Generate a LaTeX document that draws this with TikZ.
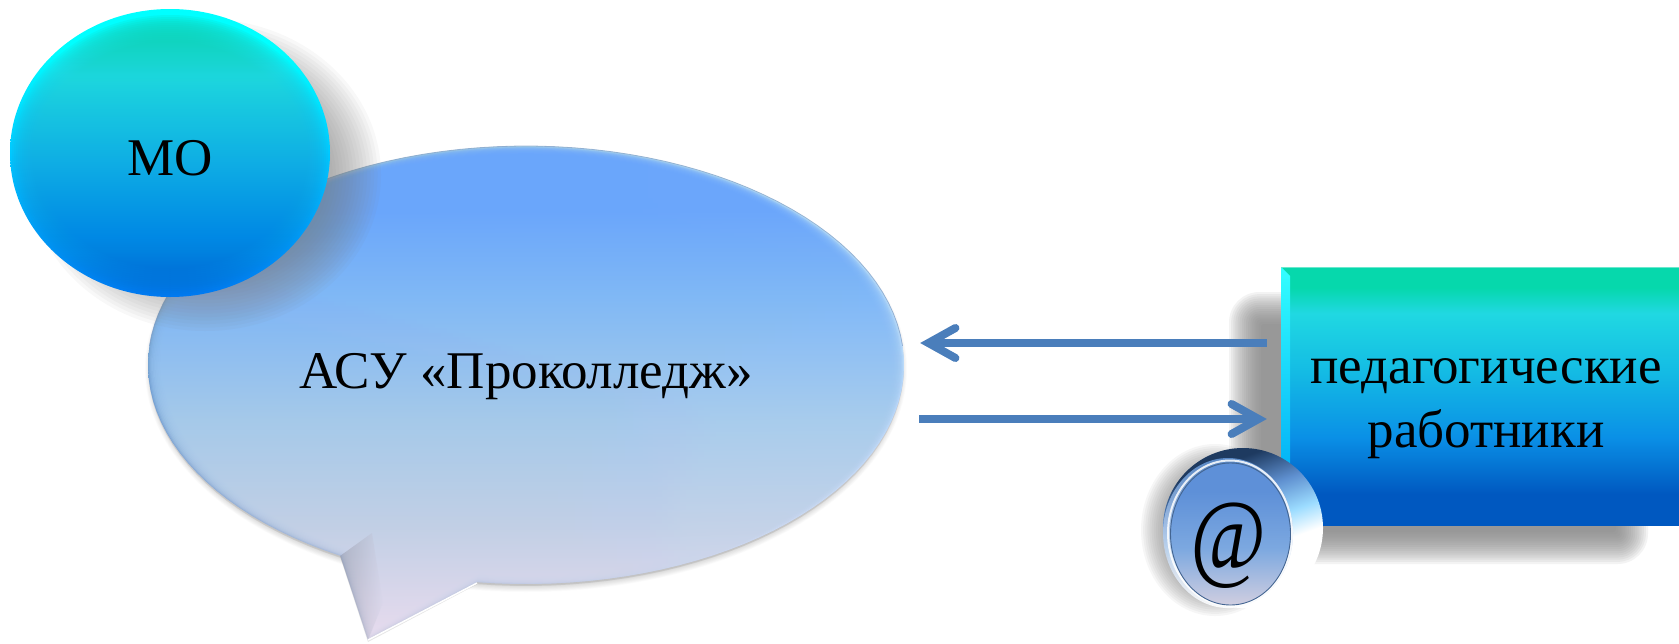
\documentclass[tikz,border=0pt]{standalone}
\usepackage{fontspec}
\setmainfont{Liberation Serif}
\usetikzlibrary{arrows.meta,shapes.geometric,calc}
\definecolor{pwA}{HTML}{0058C0}\definecolor{pwB}{HTML}{0A90E6}\definecolor{pwC}{HTML}{14BCE4}
\definecolor{pwD}{HTML}{20D8E2}\definecolor{pwE}{HTML}{06D8AC}
\definecolor{moA}{HTML}{0070D8}\definecolor{moB}{HTML}{0088E4}\definecolor{moC}{HTML}{12ACE4}
\definecolor{moD}{HTML}{20D6DE}\definecolor{moE}{HTML}{10D4B8}
\definecolor{rimA}{HTML}{0078F0}\definecolor{rimB}{HTML}{00C8FF}\definecolor{rimC}{HTML}{00FFFF}
\definecolor{asA}{HTML}{E8DDF0}\definecolor{asB}{HTML}{C4D2E8}\definecolor{asC}{HTML}{A8CCEC}
\definecolor{asD}{HTML}{80B8F8}\definecolor{asE}{HTML}{6AA6FE}\definecolor{asF}{HTML}{A8E4F2}
\definecolor{cfA}{HTML}{D0CEE0}\definecolor{cfB}{HTML}{7CA8E0}\definecolor{cfC}{HTML}{5E90D8}
\definecolor{crA}{HTML}{1E3A60}\definecolor{crB}{HTML}{5F90D0}\definecolor{crC}{HTML}{9CDCFF}
\definecolor{edgeblue}{HTML}{7C9CC8}
\definecolor{facet}{HTML}{D8D8EC}
\definecolor{arrowblue}{HTML}{4A7EBB}
\definecolor{shadowgray}{HTML}{808080}
% shadings: the path's box maps to 25bp (bottom) .. 75bp (top)
\pgfdeclareverticalshading{pwgrad}{100bp}{
 color(0bp)=(pwA); color(25bp)=(pwA); color(31bp)=(pwA); color(42bp)=(pwB); color(55bp)=(pwC);
 color(66bp)=(pwD); color(71bp)=(pwE); color(75bp)=(pwE); color(100bp)=(pwE)}
\pgfdeclareverticalshading{mograd}{100bp}{
 color(0bp)=(moA); color(25bp)=(moA); color(32bp)=(moB); color(48bp)=(moC); color(66bp)=(moD);
 color(75bp)=(moE); color(100bp)=(moE)}
\pgfdeclareverticalshading{morim}{100bp}{
 color(0bp)=(rimA); color(25bp)=(rimA); color(50bp)=(rimB); color(68bp)=(rimC); color(75bp)=(rimC); color(100bp)=(rimC)}
\pgfdeclareverticalshading{asugrad}{100bp}{
 color(0bp)=(asA); color(25bp)=(asA); color(36bp)=(asB); color(47bp)=(asC); color(60bp)=(asD);
 color(69bp)=(asE); color(75bp)=(asE); color(100bp)=(asE)}
\pgfdeclareverticalshading{asurim}{100bp}{
 color(0bp)=(asA); color(25bp)=(asA); color(50bp)=(asD); color(70bp)=(asF); color(75bp)=(asF); color(100bp)=(asF)}
\pgfdeclareverticalshading{coinface}{100bp}{
 color(0bp)=(cfA); color(25bp)=(cfA); color(45bp)=(cfB); color(65bp)=(cfC); color(75bp)=(cfC); color(100bp)=(cfC)}
\pgfdeclareverticalshading{coinrim}{100bp}{
 color(0bp)=(white); color(25bp)=(white); color(42bp)=(white); color(50bp)=(crC); color(60bp)=(crB);
 color(71bp)=(crA); color(75bp)=(crA); color(100bp)=(crA)}
\newcommand{\softellipse}[6]{% cx cy rx ry blur opacity-step
 \foreach \softi in {0,...,15}{
  \pgfmathsetmacro{\softd}{#5*(1-\softi/7.5)}
  \fill[shadowgray,fill opacity=#6] (#1,#2) ellipse [x radius=#3pt+\softd pt,y radius=#4pt+\softd pt];}}
\newcommand{\softrect}[5]{% x1 y1 x2 y2 blur
 \foreach \softi in {0,...,15}{
  \pgfmathsetmacro{\softd}{#5*(1-\softi/7.5)}
  \pgfmathsetmacro{\softr}{max(3,#5*.9+\softd)}
  \fill[shadowgray,fill opacity=.09,rounded corners=\softr pt]
   ($(#1,#2)+(-\softd,-\softd)$) rectangle ($(#3,#4)+(\softd,\softd)$);}}
\newcommand{\balloonpath}{
 plot[domain=97.4:-240.6,samples=120] ({526+378*cos(\x)},{365+219*sin(\x)}) -- (368,640) -- cycle}
\tikzset{
 label text/.style={font=\fontsize{53}{64}\selectfont,text=black,inner sep=0pt},
 flow/.style={arrowblue,line width=8pt,-{Straight Barb[length=27pt,width=30pt,line width=8pt,line cap=round,line join=miter]}},
}
\begin{document}
\begin{tikzpicture}[x=1pt,y=-1pt]
\useasboundingbox (0,0) rectangle (1679,643);
\fill[white] (0,0) rectangle (1679,643);
% ---------- balloon
\softellipse{526}{369}{377}{219}{4}{.025}
\begin{scope}[shift={(0,2)}]
 \fill[shadowgray,fill opacity=.2] \balloonpath;
\end{scope}
\shade[shading=asurim] \balloonpath;
\shade[left color=black!30!asD!80!gray,right color=white,fill opacity=.45] \balloonpath;
\foreach \f in {.998,.995,.992,.988,.984,.98,.976,.972,.968,.964,.96}{
 \begin{scope}[shift={(526,365)},scale=\f,shift={(-526,-365)}]
  \shade[shading=asugrad,fill opacity=.28] \balloonpath;
 \end{scope}}
\draw[line width=.8pt,draw=edgeblue,draw opacity=.7]
 plot[domain=-5:-175,samples=60] ({526+378*cos(\x)},{365+219*sin(\x)});
\shade[left color=black!45!cfA,right color=facet,fill opacity=.3] (340,556) -- (368,640) -- (383,603) -- (372,533) -- cycle;
\draw[white,line width=1.5pt] (368,640) -- (477,583);
\node[ellipse,minimum width=756pt,minimum height=438pt,inner sep=0pt] (asu) at (526,365) {};
\node[label text,anchor=base] (asutext) at (526,388) {АСУ «Проколледж»};
% ---------- MO
\softellipse{205}{175}{150}{130}{26}{.055}
\shade[shading=morim] (170,153) ellipse [x radius=160pt,y radius=144pt];
\foreach \r in {2,4,...,28}{
 \shade[shading=mograd,fill opacity=.2] (170,155) ellipse [x radius=160pt-\r pt,y radius=142pt-\r pt];}
\node[label text,anchor=base] (mo) at (170,175) {МО};
% ---------- staff box
\softrect{1245}{308}{1632}{548}{16}
\softellipse{1215}{530}{58}{70}{16}{.07}
\node[rectangle,shading=pwgrad,minimum width=398pt,minimum height=258pt,inner sep=0pt] (pw) at (1480,396) {};
\shade[top color=white!20!cyan,bottom color=rimA!60!cyan] (1281,267) -- (1290,276) -- (1290,480) -- (1281,480) -- cycle;
\draw[white!40!pwE,line width=1pt] (1281,267) -- (1679,267);
\node[label text,anchor=base] (pwa) at (1486,383) {педагогические};
\node[label text,anchor=base] (pwb) at (1486,447) {работники};
% ---------- connectors
\coordinate (asuT) at ([xshift=16pt,yshift=22pt]asu.east);
\coordinate (asuB) at ([xshift=15pt,yshift=-54pt]asu.east);
\coordinate (pwT) at ([xshift=-14pt,yshift=53pt]pw.west);
\coordinate (pwB) at ([xshift=-14pt,yshift=-23pt]pw.west);
\draw[flow] (pwT) -- (asuT);
\draw[flow] (asuB) -- (pwB);
% ---------- @ coin
\shade[shading=coinrim,shading angle=20] (1243,528) ellipse [x radius=80pt,y radius=80pt];
\shade[top color=crB,bottom color=white,fill opacity=.9] (1228,533) ellipse [x radius=65pt,y radius=75pt];
\draw[white,line width=2pt,draw opacity=.85] (1230,533) ellipse [x radius=62pt,y radius=72.5pt];
\shade[shading=coinface] (1230.5,534) ellipse [x radius=60pt,y radius=71pt];
\draw[crB!70!black,line width=.9pt] (1230.5,534) ellipse [x radius=60pt,y radius=71pt];
\node[inner sep=0pt,xscale=.82,font=\fontsize{100}{100}\itshape\selectfont] (at) at (1228,546) {@};
\end{tikzpicture}
\end{document}
